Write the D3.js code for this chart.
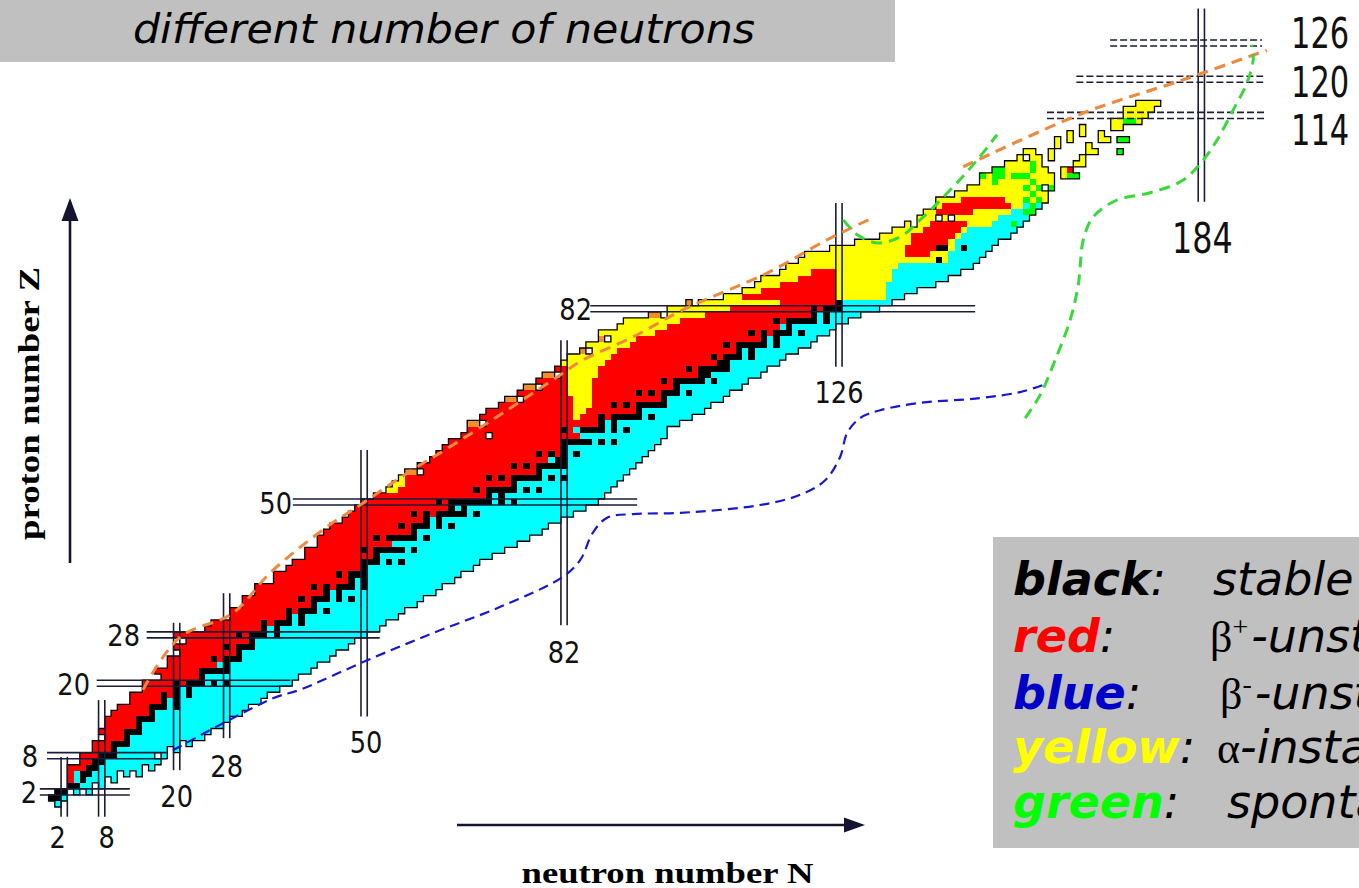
<!DOCTYPE html>
<html>
<head>
<meta charset="utf-8">
<script src="https://cdn.jsdelivr.net/npm/d3@7"></script>
<style>
  html, body { margin: 0; padding: 0; background: #fff; }
  svg { display: block; }
</style>
</head>
<body>
<svg id="chart" width="1359" height="888"></svg>
<script>
// ---------------------------------------------------------------
// Chart of nuclides: data (index of the per-Z arrays = proton number Z)
// ---------------------------------------------------------------

// lightest known neutron number for each Z
const firstN = [
  1, 0, 1, 3, 3, 3, 3, 5, 5, 7,
  7, 8, 8, 9, 9, 10, 11, 13, 13, 15,
  15, 18, 17, 19, 19, 21, 20, 22, 20, 25,
  26, 29, 29, 31, 31, 33, 33, 36, 36, 38,
  39, 41, 41, 43, 43, 44, 45, 47, 48, 49,
  50, 52, 54, 55, 56, 57, 59, 61, 62, 63,
  64, 66, 67, 67, 69, 70, 72, 73, 75, 76,
  78, 79, 81, 82, 83, 85, 86, 88, 88, 91,
  92, 96, 99, 102, 108, 111, 113, 114, 117, 118,
  120, 121, 125, 129, 133, 135, 137, 139, 140, 142,
  142, 145, 147, 149, 149, 151, 153, 155, 156
];

// heaviest known neutron number for each Z
const lastN = [
  1, 2, 6, 8, 10, 14, 16, 17, 18, 20,
  22, 24, 25, 27, 28, 30, 31, 33, 34, 36,
  38, 39, 41, 42, 44, 45, 47, 48, 50, 52,
  53, 55, 56, 58, 59, 61, 62, 64, 65, 67,
  68, 70, 72, 74, 76, 78, 79, 81, 83, 85,
  87, 88, 89, 90, 91, 92, 93, 94, 95, 96,
  97, 98, 98, 100, 102, 104, 105, 107, 108, 110,
  111, 113, 114, 116, 117, 119, 121, 122, 124, 125,
  127, 129, 132, 134, 136, 138, 141, 143, 145, 147,
  148, 149, 150, 151, 153, 154, 155, 156, 157, 158,
  159, 159, 160, 160, 160, 159, 158, 158, 157
];

// heaviest neutron number still decaying by beta+ / EC (heavier ones decay beta-)
const betaPlusLastN = [
  0, -1, 0, 2, 3, 3, 5, 6, 7, 9,
  9, 11, 11, 13, 13, 15, 15, 17, 19, 19,
  21, 23, 23, 26, 27, 29, 29, 31, 31, 33,
  35, 37, 39, 41, 41, 43, 45, 47, 47, 49,
  49, 51, 51, 54, 53, 57, 57, 59, 61, 63,
  63, 69, 69, 73, 73, 77, 77, 79, 81, 81,
  81, 84, 83, 87, 89, 93, 93, 97, 97, 99,
  99, 103, 103, 106, 107, 109, 109, 113, 115, 116,
  117, 121, 123, 125, 133, 133, 133, 134, 134, 135,
  143, 143, 144, 144, 145, 146, 150, 151, 153, 155,
  999, 999, 999, 999, 999, 999, 999, 999, 999
];

// stable nuclides: neutron numbers for each Z
const stableN = [
  [], [0, 1], [1, 2], [3, 4], [5], [5, 6], [6, 7], [7, 8], [8, 9, 10], [10],
  [10, 11, 12], [12], [12, 13, 14], [14], [14, 15, 16], [16], [16, 17, 18, 20], [18, 20], [18, 20, 22], [20, 22],
  [20, 22, 23, 24, 26, 28], [24], [24, 25, 26, 27, 28], [28], [26, 28, 29, 30], [30], [28, 30, 31, 32], [32], [30, 32, 33, 34, 36], [34, 36],
  [34, 36, 37, 38, 40], [38, 40], [38, 40, 41, 42, 44], [42], [40, 42, 43, 44, 46, 48], [44, 46], [42, 44, 46, 47, 48, 50], [48, 50], [46, 48, 49, 50], [50],
  [50, 51, 52, 54, 56], [52], [50, 52, 53, 54, 55, 56, 58], [], [52, 54, 55, 56, 57, 58, 60], [58], [56, 58, 59, 60, 62, 64], [60, 62], [58, 60, 62, 63, 64, 65, 66, 68], [64, 66],
  [62, 64, 65, 66, 67, 68, 69, 70, 72, 74], [70, 72], [68, 70, 71, 72, 73, 74, 76, 78], [74], [70, 72, 74, 75, 76, 77, 78, 80, 82], [78], [74, 76, 78, 79, 80, 81, 82], [81, 82], [78, 80, 82, 84], [82],
  [82, 83, 84, 85, 86, 88, 90], [], [82, 85, 86, 87, 88, 90, 92], [88, 90], [88, 90, 91, 92, 93, 94, 96], [94], [90, 92, 94, 95, 96, 97, 98], [98], [94, 96, 98, 99, 100, 102], [100],
  [98, 100, 101, 102, 103, 104, 106], [104, 105], [102, 104, 105, 106, 107, 108], [107, 108], [106, 108, 109, 110, 112], [110, 112], [108, 110, 111, 112, 113, 114, 116], [114, 116], [112, 114, 116, 117, 118, 120], [118],
  [116, 118, 119, 120, 121, 122, 124], [122, 124], [122, 124, 125, 126], [126], [], [], [], [], [], [],
  [142], [], [142, 143, 146]
];

// alpha-decaying runs [Z, first N, last N]
const alphaRuns = [
  [52, 54, 55], [53, 55, 56], [54, 56, 56],
  [64, 84, 84], [65, 84, 85], [66, 84, 86], [67, 84, 86], [68, 83, 86], [69, 83, 86],
  [70, 83, 86], [71, 83, 87], [72, 83, 87], [73, 82, 88], [74, 83, 89], [75, 87, 90],
  [76, 86, 92], [77, 90, 93], [78, 88, 96], [79, 91, 98], [80, 92, 100], [81, 99, 104],
  [82, 99, 108], [83, 104, 116],
  [84, 108, 133], [85, 111, 133], [86, 113, 133], [87, 114, 134], [88, 117, 134],
  [89, 118, 135], [90, 120, 143], [91, 121, 143], [92, 125, 144], [93, 129, 144],
  [94, 133, 145], [95, 135, 146], [96, 137, 150], [97, 139, 151], [98, 140, 153],
  [99, 142, 155], [100, 142, 159], [101, 145, 159], [102, 147, 160], [103, 149, 160],
  [104, 149, 160], [105, 151, 159], [106, 153, 158], [107, 155, 158], [108, 156, 157],
  // isolated superheavy nuclei
  [104, 162, 162], [105, 162, 162], [106, 164, 165], [107, 165, 165], [108, 166, 167],
  [109, 166, 166], [110, 168, 169], [111, 168, 168], [111, 165, 165], [112, 165, 165],
  [110, 163, 163], [111, 163, 163], [109, 161, 161], [110, 161, 161], [108, 160, 160],
  [107, 160, 160], [112, 170, 171], [113, 170, 174], [114, 172, 175], [115, 172, 176],
  [116, 174, 177]
];

// beta+ / EC islands inside the alpha region [Z, first N, last N]
const betaPlusPatches = [
  [84, 111, 125], [85, 114, 125], [86, 117, 125], [87, 120, 125], [88, 122, 125],
  [91, 137, 140], [92, 137, 141], [93, 138, 143], [94, 138, 144], [95, 140, 145],
  [96, 141, 146], [98, 142, 147], [99, 143, 153], [100, 146, 152], [105, 163, 163]
];

// spontaneous fission [Z, N]
const fissionCells = [
  [96, 154], [98, 156], [98, 157], [99, 157], [100, 156], [100, 158], [101, 157],
  [102, 156], [102, 158], [102, 160], [103, 157], [103, 151], [104, 149], [104, 151],
  [104, 152], [104, 154], [104, 155], [104, 156], [105, 151], [105, 152], [105, 157],
  [106, 157], [104, 163], [104, 164], [110, 171], [110, 172], [108, 171], [113, 172], [113, 173]
];

// proton emitters [Z, first N, last N]
const protonEmitterRuns = [
  [55, 57, 58], [63, 67, 68], [67, 73, 74], [69, 76, 77], [71, 79, 80],
  [75, 85, 85], [77, 88, 88], [81, 96, 97], [83, 102, 102]
];

// unbound / unobserved cells inside the known ranges [Z, N]
const missingCells = [
  [2, 3], [2, 5], [3, 7], [4, 9], [5, 11], [5, 13], [6, 15], [8, 17], [9, 19], [10, 21],
  [11, 8], [13, 8], [61, 70], [96, 138], [97, 142], [97, 144], [102, 159], [107, 156],
  [55, 59], [63, 69], [67, 75], [69, 78], [71, 81], [75, 86], [77, 89], [81, 98], [83, 103]
];

// theoretical limits, points as [N, Z]
const protonDripLine = [
  [14.6, 18.9], [20.5, 27.6], [29.0, 31.6], [34.9, 38.2], [43.4, 45.4], [49.8, 49.8],
  [56.9, 54.8], [63.7, 59.1], [72.9, 65.2], [80.9, 70.7], [85.0, 73.5], [93.0, 77.3],
  [101.0, 81.8], [114.5, 87.9], [124.1, 93.4], [131.3, 97.0]
];
const protonDripLineTop = [[145.9, 105.5], [165.1, 114.4], [181.1, 119.9], [194.5, 124.8]];
const neutronDripLine = [
  [19.4, 8.9], [35.4, 17.5], [39.7, 18.9], [50.5, 23.8], [61.0, 28.3], [71.7, 32.6],
  [81.8, 37.6], [84.6, 40.4], [86.6, 44.9], [88.9, 47.4], [93.0, 48.0], [100.6, 48.2],
  [113.4, 49.5], [119.8, 51.2], [123.8, 53.6], [126.2, 57.5], [127.3, 61.4], [129.4, 63.9],
  [132.6, 65.2], [138.9, 66.4], [148.6, 67.2], [155.0, 68.2], [159.0, 69.5]
];
const fissionLimitRight = [
  [155.8, 63.9], [158.2, 67.7], [160.6, 73.5], [163.0, 80.1], [164.3, 85.9], [164.6, 88.9],
  [165.1, 93.4], [166.7, 97.2], [170.5, 100.0], [175.8, 101.2], [181.1, 103.3], [184.3, 106.6],
  [186.5, 109.9], [189.1, 114.9], [191.3, 119.4], [192.3, 123.2], [192.1, 125.7]
];
const fissionLimitLeft = [
  [126.7, 96.7], [129.0, 94.2], [132.1, 92.9], [135.8, 93.9], [139.0, 96.7],
  [144.3, 102.2], [148.1, 106.6], [151.3, 110.8]
];

// magic numbers
const magicProtons = [2, 8, 20, 28, 50, 82];
const magicProtonsPredicted = [114, 120, 126];
const magicNeutrons = [2, 8, 20, 28, 50, 82, 126, 184];

// ---------------------------------------------------------------
// drawing
// ---------------------------------------------------------------
const svg = d3.select('#chart');
svg.append('rect').attr('width', 1359).attr('height', 888).attr('fill', '#fff');

const x = d3.scaleLinear().domain([0, 184]).range([51.7, 51.7 + 6.248 * 184]);
const y = d3.scaleLinear().domain([0, 126]).range([804, 804 - 6.04 * 126]);
const cw = x(1) - x(0);
const ch = y(0) - y(1);

const modeColor = {
  stable: '#000000',
  betaPlus: '#ff0000',
  betaMinus: '#00ffff',
  alpha: '#ffff00',
  fission: '#00ff00',
  proton: '#ee8f2c'
};

const key = (z, n) => z + ',' + n;
const cells = new Map();
const setCell = (z, n, mode) => cells.set(key(z, n), { z, n, mode });
const inRuns = (runs, z, n) => runs.some(r => r[0] === z && n >= r[1] && n <= r[2]);

firstN.forEach((n0, z) => {
  for (let n = n0; n <= lastN[z]; n++) {
    const mode = inRuns(alphaRuns, z, n) ? 'alpha'
      : (n <= betaPlusLastN[z] ? 'betaPlus' : 'betaMinus');
    setCell(z, n, mode);
  }
});
alphaRuns.forEach(([z, a, b]) => {
  for (let n = a; n <= b; n++) if (!cells.has(key(z, n))) setCell(z, n, 'alpha');
});
betaPlusPatches.forEach(([z, a, b]) => { for (let n = a; n <= b; n++) setCell(z, n, 'betaPlus'); });
fissionCells.forEach(([z, n]) => setCell(z, n, 'fission'));
protonEmitterRuns.forEach(([z, a, b]) => { for (let n = a; n <= b; n++) setCell(z, n, 'proton'); });
stableN.forEach((list, z) => list.forEach(n => setCell(z, n, 'stable')));
missingCells.forEach(([z, n]) => cells.delete(key(z, n)));

// merge neighbouring cells of one decay mode into horizontal runs
const runs = [];
d3.groups(Array.from(cells.values()), d => d.z).forEach(([z, list]) => {
  list.sort((a, b) => a.n - b.n);
  let cur = null;
  list.forEach(c => {
    if (cur && cur.mode === c.mode && c.n === cur.n1 + 1) cur.n1 = c.n;
    else { cur = { z, n0: c.n, n1: c.n, mode: c.mode }; runs.push(cur); }
  });
});

svg.append('g').attr('shape-rendering', 'crispEdges')
  .selectAll('rect').data(runs).join('rect')
  .attr('x', d => x(d.n0) - cw / 2)
  .attr('y', d => y(d.z) - ch / 2)
  .attr('width', d => (d.n1 - d.n0 + 1) * cw)
  .attr('height', ch)
  .attr('fill', d => modeColor[d.mode]);

// outline of the known region
let outline = '';
cells.forEach(c => {
  const x0 = x(c.n) - cw / 2, x1 = x0 + cw;
  const yt = y(c.z) - ch / 2, yb = yt + ch;
  if (!cells.has(key(c.z + 1, c.n))) outline += `M${x0},${yt}H${x1}`;
  if (!cells.has(key(c.z - 1, c.n))) outline += `M${x0},${yb}H${x1}`;
  if (!cells.has(key(c.z, c.n - 1))) outline += `M${x0},${yt}V${yb}`;
  if (!cells.has(key(c.z, c.n + 1))) outline += `M${x1},${yt}V${yb}`;
});
svg.append('path').attr('d', outline).attr('fill', 'none')
  .attr('stroke', '#000').attr('stroke-width', 1.3).attr('stroke-linecap', 'square');

// magic number double lines
const lineColor = '#1c1c38';
const protonLineSpan = { 2: [-1.9, 12.5], 8: [-0.75, 18.4], 20: [7.2, 38.2], 28: [15.2, 52.5], 50: [38.6, 93.7], 82: [86.2, 147.8],
  114: [159.3, 194.5], 120: [164, 193.9], 126: [169.4, 193.7] };
const neutronLineSpan = { 2: [-2.1, 7.8], 8: [-2.1, 17.2], 20: [5.6, 30], 28: [10.9, 34.9], 50: [14.5, 58.6], 82: [29.6, 76.8],
  126: [72.4, 99.5], 184: [99.7, 131.7] };
const magic = svg.append('g').attr('stroke', lineColor).attr('stroke-width', 1.6).attr('fill', 'none');

magicProtons.concat(magicProtonsPredicted).forEach(z => {
  const [a, b] = protonLineSpan[z];
  const dashed = magicProtonsPredicted.includes(z);
  [-1, 1].forEach(s => {
    magic.append('line')
      .attr('x1', x(a)).attr('x2', x(b))
      .attr('y1', y(z) + s * ch * 0.5).attr('y2', y(z) + s * ch * 0.5)
      .attr('stroke-dasharray', dashed ? '7,3' : null);
  });
});
magicNeutrons.forEach(n => {
  const [a, b] = neutronLineSpan[n];
  [-1, 1].forEach(s => {
    magic.append('line')
      .attr('x1', x(n) + s * cw * 0.5).attr('x2', x(n) + s * cw * 0.5)
      .attr('y1', y(a)).attr('y2', y(b));
  });
});

// theoretical limit curves
const curve = d3.line().x(d => x(d[0])).y(d => y(d[1])).curve(d3.curveCatmullRom.alpha(0.5));
const dashedCurve = (pts, color, width, dash) =>
  svg.append('path').attr('d', curve(pts)).attr('fill', 'none')
    .attr('stroke', color).attr('stroke-width', width).attr('stroke-dasharray', dash)
    .attr('stroke-linecap', 'butt');
dashedCurve(protonDripLine, '#ec8a40', 3, '11,7');
dashedCurve(protonDripLineTop, '#ec8a40', 3.2, '11,7');
dashedCurve(neutronDripLine, '#1818d0', 2.2, '10,6');
dashedCurve(fissionLimitRight, '#3bd83b', 3, '11,7');
dashedCurve(fissionLimitLeft, '#3bd83b', 3, '11,7');

// magic number labels: narrow digits made by squeezing the face horizontally
const numFont = "'DejaVu Sans', sans-serif";
const labels = svg.append('g').attr('font-family', numFont).attr('fill', '#111');
const numLabel = (txt, size, squeeze, px, py, anchor) => labels.append('text').text(txt)
  .attr('font-size', size)
  .attr('text-anchor', anchor)
  .attr('transform', `translate(${px},${py}) scale(${squeeze},1)`);

const protonLabelRight = { 2: 37, 8: 38, 20: 90, 28: 140, 50: 292, 82: 592 };
magicProtons.forEach(z => numLabel(z, 31, 0.83, protonLabelRight[z], y(z) + 11.5, 'end'));

const predictedLabelY = { 126: 48, 120: 97, 114: 145 };
magicProtonsPredicted.forEach(z => numLabel(z, 43, 0.71, 1291, predictedLabelY[z], 'start'));

const neutronLabelZ = { 2: -7.3, 8: -7.3, 20: -0.5, 28: 4.5, 50: 8.4, 82: 23.3, 126: 66.4, 184: 91.2 };
const neutronLabelShift = { 2: -6.5, 8: 5, 20: 0, 28: 0, 50: 2, 82: 0, 126: 0, 184: 1 };
magicNeutrons.forEach(n => numLabel(n, n === 184 ? 43 : 31, n === 184 ? 0.74 : 0.83,
  x(n) + neutronLabelShift[n], y(neutronLabelZ[n]), 'middle'));

// axis arrows and titles
const arrowColor = '#141432';
svg.append('line').attr('x1', 70).attr('x2', 70).attr('y1', 563).attr('y2', 215)
  .attr('stroke', arrowColor).attr('stroke-width', 2.6);
svg.append('path').attr('d', 'M70,198 L78.5,221 L61.5,221 Z').attr('fill', arrowColor);
svg.append('line').attr('x1', 457).attr('x2', 850).attr('y1', 825).attr('y2', 825)
  .attr('stroke', arrowColor).attr('stroke-width', 2.6);
svg.append('path').attr('d', 'M865,825 L844,817.5 L844,832.5 Z').attr('fill', arrowColor);

svg.append('text').text('proton number Z')
  .attr('transform', 'translate(39,403.5) rotate(-90)')
  .attr('text-anchor', 'middle')
  .attr('font-family', "'Liberation Serif', 'Times New Roman', serif")
  .attr('font-weight', 'bold').attr('font-size', 29)
  .attr('textLength', 273).attr('lengthAdjust', 'spacingAndGlyphs');
svg.append('text').text('neutron number N')
  .attr('x', 667.5).attr('y', 883)
  .attr('text-anchor', 'middle')
  .attr('font-family', "'Liberation Serif', 'Times New Roman', serif")
  .attr('font-weight', 'bold').attr('font-size', 29)
  .attr('textLength', 292).attr('lengthAdjust', 'spacingAndGlyphs');

// heading box
svg.append('rect').attr('x', 0).attr('y', 0).attr('width', 895).attr('height', 62).attr('fill', '#c0c0c0');
svg.append('text').text('different number of neutrons')
  .attr('x', 133).attr('y', 43)
  .attr('font-family', "'DejaVu Sans', sans-serif").attr('font-style', 'italic')
  .attr('font-size', 40).attr('fill', '#000')
  .attr('textLength', 622).attr('lengthAdjust', 'spacingAndGlyphs');

// legend (the box runs past the right edge of the drawing)
const legendFont = "'DejaVu Sans', sans-serif";
svg.append('rect').attr('x', 993).attr('y', 537).attr('width', 380).attr('height', 311).attr('fill', '#c0c0c0');
const legendRows = [
  { word: 'black', color: '#000000', y: 595, sym: null, sup: null, text: 'stable', tx: 1213 },
  { word: 'red', color: '#ff0000', y: 652, sym: 'β', sup: '+', text: '-unstable', tx: 1210 },
  { word: 'blue', color: '#0000c8', y: 709, sym: 'β', sup: '-', text: '-unstable', tx: 1220 },
  { word: 'yellow', color: '#ffff00', y: 763, sym: 'α', sup: null, text: '-instable', tx: 1217 },
  { word: 'green', color: '#00ff00', y: 818, sym: null, sup: null, text: 'spontaneous fission', tx: 1227 }
];
legendRows.forEach(r => {
  const t = svg.append('text').attr('y', r.y).attr('font-family', legendFont).attr('font-size', 46);
  t.append('tspan').attr('x', 1013).text(r.word)
    .attr('font-weight', 'bold').attr('font-style', 'italic').attr('fill', r.color);
  t.append('tspan').text(':').attr('font-style', 'italic').attr('fill', '#000');
  const d = svg.append('text').attr('y', r.y).attr('x', r.tx).attr('font-size', 46).attr('fill', '#000');
  if (r.sym) {
    d.append('tspan').text(r.sym).attr('font-family', "'Liberation Serif', serif").attr('font-size', 44);
    if (r.sup) {
      d.append('tspan').text(r.sup).attr('font-family', "'Liberation Serif', serif")
        .attr('font-size', 28).attr('dy', -16);
      d.append('tspan').text(r.text).attr('dy', 16).attr('dx', 3)
        .attr('font-family', legendFont).attr('font-style', 'italic');
    } else {
      d.append('tspan').text(r.text).attr('font-family', legendFont).attr('font-style', 'italic');
    }
  } else {
    d.append('tspan').text(r.text).attr('font-family', legendFont).attr('font-style', 'italic');
  }
});
</script>
</body>
</html>
